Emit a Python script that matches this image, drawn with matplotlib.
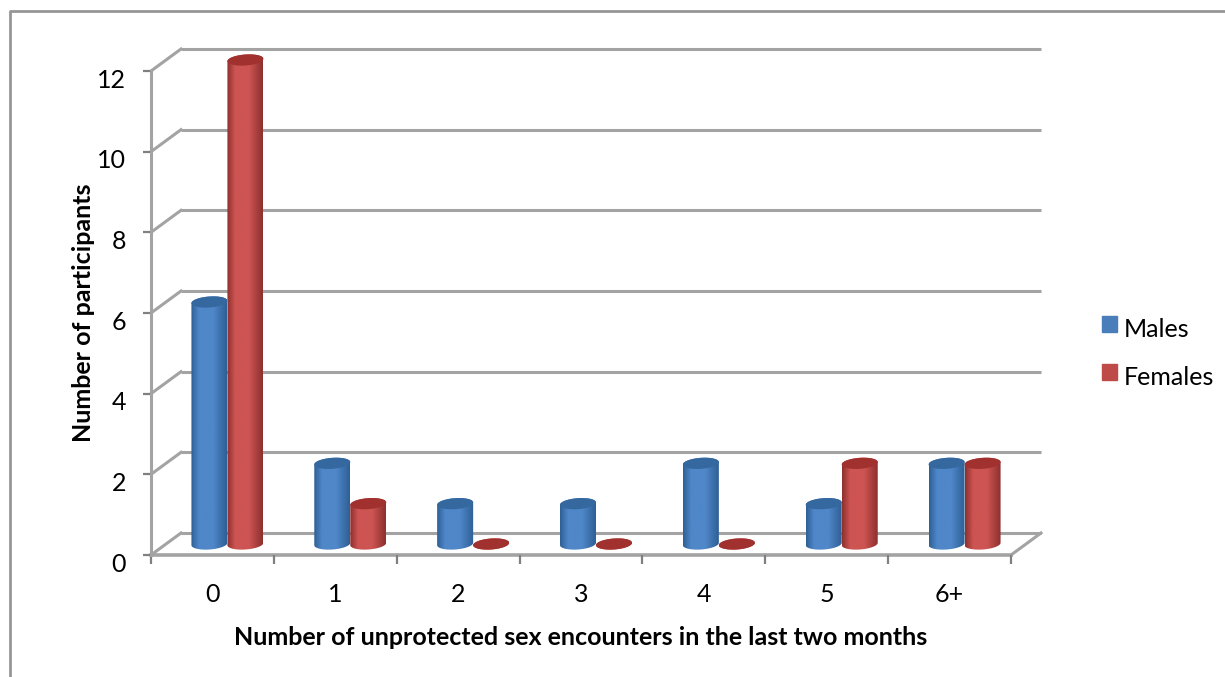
import numpy as np
import matplotlib
matplotlib.use("Agg")
import matplotlib.pyplot as plt
from matplotlib.colors import LinearSegmentedColormap
from matplotlib.lines import Line2D
from matplotlib.patches import PathPatch, Rectangle
from matplotlib.path import Path
from matplotlib.transforms import ScaledTranslation

plt.rcParams['font.family'] = ['Lato', 'DejaVu Sans']

categories = ["0", "1", "2", "3", "4", "5", "6+"]
males = [6, 2, 1, 1, 2, 1, 2]
females = [12, 1, 0, 0, 0, 2, 2]
y_ticks = [0, 2, 4, 6, 8, 10, 12]

GRID = "#a3a3a3"
W, H = 1225, 677

fig = plt.figure(figsize=(W / 100, H / 100), dpi=100)
ax = fig.add_axes([151 / W, (H - 555) / H, 860 / W, 484 / H])
ax.set_xlim(0, len(categories))
ax.set_ylim(0, 12)

# pixel sizes turned into data units
ux = len(categories) / 860
uy = 12 / 484
depth_x = 30 * ux
depth_y = 22 * uy


def wall_lines():
    for v in y_ticks:
        # gridline on the back wall plus the slanted bit on the side wall
        ax.plot([depth_x, len(categories) + depth_x], [v + depth_y, v + depth_y],
                color=GRID, lw=2.2, clip_on=False, zorder=1, solid_capstyle="butt")
        ax.plot([0, depth_x], [v, v + depth_y], color=GRID, lw=2.2, clip_on=False, zorder=1)
    # floor edge
    ax.plot([0, len(categories)], [0, 0], color=GRID, lw=2.6, clip_on=False, zorder=1.5)
    ax.plot([len(categories), len(categories) + depth_x], [0, depth_y], color=GRID, lw=2.2,
            clip_on=False, zorder=1)


def cylinder(center, value, edge, mid, top):
    rx = 18 * ux
    ry = 5.5 * uy
    tilt = 1.2 * uy
    cx = center + depth_x / 2
    base = depth_y / 2
    cmap = LinearSegmentedColormap.from_list(
        "cyl", [(0, edge), (0.22, mid), (0.62, mid), (1, edge)])

    t = np.linspace(np.pi, 2 * np.pi, 40)
    low_x = cx + rx * np.cos(t)
    low_y = base + ry * np.sin(t) + tilt * np.cos(t)
    t2 = np.linspace(0, np.pi, 40)
    up_x = cx + rx * np.cos(t2)
    up_y = base + value + ry * np.sin(t2) + tilt * np.cos(t2)
    body = Path(np.column_stack([np.r_[low_x, up_x], np.r_[low_y, up_y]]))

    img = ax.imshow(np.linspace(0, 1, 64).reshape(1, -1), cmap=cmap, aspect="auto",
                    extent=(cx - rx, cx + rx, base - 2 * ry, base + value + 2 * ry),
                    interpolation="bilinear", zorder=3 + center / 10)
    # caps poke out above the top of the axes
    img.set_clip_box(fig.bbox)
    img.set_clip_path(PathPatch(body, transform=ax.transData))

    t3 = np.linspace(0, 2 * np.pi, 80)
    cap = np.column_stack([cx + rx * np.cos(t3),
                           base + value + ry * np.sin(t3) + tilt * np.cos(t3)])
    ax.add_patch(PathPatch(Path(cap), facecolor=top, edgecolor="none", clip_on=False,
                           zorder=3.05 + center / 10))


wall_lines()

bar_w = 36 * ux
for i, name in enumerate(categories):
    cylinder(i + 0.5 - bar_w / 2, males[i], "#2f6096", "#4f87c9", "#34689f")
    cylinder(i + 0.5 + bar_w / 2, females[i], "#8d302e", "#cd5452", "#a0312f")

ax.set_xlim(0, len(categories))
ax.set_ylim(0, 12)

for s in ["top", "right"]:
    ax.spines[s].set_visible(False)
ax.spines["left"].set_color(GRID)
ax.spines["left"].set_linewidth(2.2)
ax.spines["bottom"].set_visible(False)
ax.patch.set_alpha(0)

ax.set_xticks(range(len(categories) + 1))
ax.set_xticklabels([])
ax.set_xticks(np.arange(len(categories)) + 0.5, categories, minor=True)
ax.tick_params(axis="x", which="major", length=6.5, width=1.6, color="#808080")
ax.tick_params(axis="x", which="minor", length=0, pad=20, labelsize=18)
ax.set_yticks(y_ticks)
ax.tick_params(axis="y", length=6, width=1.6, color="#808080", pad=12, labelsize=18)

# value labels sit a little below their ticks
drop = ScaledTranslation(0, -7 / 100, fig.dpi_scale_trans)
for lab in ax.get_yticklabels():
    lab.set_transform(lab.get_transform() + drop)

ax.set_xlabel("Number of unprotected sex encounters in the last two months",
              fontsize=18, fontweight="bold", labelpad=14.5)
ax.set_ylabel("Number of participants", fontsize=18, fontweight="bold", labelpad=1.5)

handles = [Rectangle((0, 0), 1, 1, color="#4a7ebb"), Rectangle((0, 0), 1, 1, color="#be4b48")]
leg = ax.legend(handles, ["Males", "Females"], loc="center left", bbox_to_anchor=(1.1063, 0.416),
                frameon=False, fontsize=18, handlelength=0.6, handleheight=0.6,
                handletextpad=0.25, labelspacing=0.98, borderpad=0, borderaxespad=0)
for p in leg.get_patches():
    p.set_y(p.get_y() + 3)

# outer chart frame, open on the right and bottom
fig.add_artist(Line2D([10 / W, 10 / W, 1], [0, (H - 11) / H, (H - 11) / H], color="#969696", lw=2))

fig.savefig("out.png", dpi=100)
